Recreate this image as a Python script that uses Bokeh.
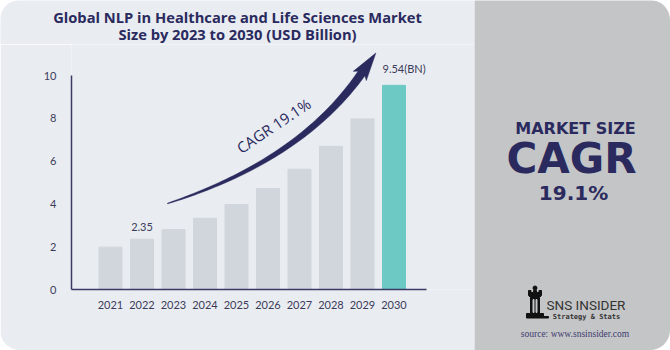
import numpy as np
from bokeh.plotting import figure
from bokeh.models import ColumnDataSource, Range1d, FixedTicker
from bokeh.layouts import row, column
from bokeh.core.properties import value
from bokeh.embed import file_html
from bokeh.resources import INLINE

# ---------------- data ----------------
years = [2021, 2022, 2023, 2024, 2025, 2026, 2027, 2028, 2029, 2030]
market_size = [1.98, 2.35, 2.80, 3.33, 3.97, 4.72, 5.62, 6.69, 7.97, 9.54]
y_ticks = [0, 2, 4, 6, 8, 10]
title_lines = ["Global NLP in Healthcare and Life Sciences Market",
               "Size by 2023 to 2030 (USD Billion)"]
cagr_label = "CAGR 19.1%"
first_label = "2.35"
last_label = "9.54(BN)"
panel_lines = ["MARKET SIZE", "CAGR", "19.1%"]
brand_name = "SNS INSIDER"
brand_tag = "Strategy & Stats"
source_text = "source: www.snsinsider.com"

# ---------------- styling / layout ----------------
BG = "#e9ecf1"
PANEL = "#c4c5c7"
NAVY = "#2a2a5e"
BAR_GREY = "#d0d6dc"
BAR_TEAL = "#6dc9c4"
TICK_COL = "#3c3c5a"

W1, W2, H = 474, 196, 350
HT = 44                         # height of the title strip
FL, FB = 71, 61                 # frame left / bottom borders (px)
PX_YEAR, PX_UNIT = 31.5, 21.4   # scale factors
FRAME_BOTTOM = H - FB           # page y of value 0
x0 = years[0] - (110 - FL) / PX_YEAR
x1 = x0 + (W1 - FL) / PX_YEAR
y1 = (FRAME_BOTTOM - HT) / PX_UNIT


def to_data(px, py):
    return x0 + (np.asarray(px) - FL) / PX_YEAR, (FRAME_BOTTOM - np.asarray(py)) / PX_UNIT


def blank(width, height, xr, yr, fill):
    f = figure(width=width, height=height, x_range=xr, y_range=yr, min_border=0,
               output_backend="svg", toolbar_location=None,
               x_axis_type=None, y_axis_type=None,
               background_fill_color=fill, border_fill_color=fill, outline_line_color=None)
    f.grid.visible = False
    f.frame_align = False
    return f


# ---------------- title strip ----------------
t = blank(W1, HT, Range1d(0, W1), Range1d(HT, 0), BG)
t.text(x=[237, 237], y=[16, 33], text=title_lines, text_align="center",
       text_baseline="middle", text_font=value("Open Sans"), text_font_style="bold",
       text_font_size="14.7px", text_color=NAVY)
t.styles = {"border-top-left-radius": "20px", "overflow": "hidden"}

# ---------------- main chart ----------------
p = figure(width=W1, height=H - HT, x_range=Range1d(x0, x1), y_range=Range1d(0, y1),
           min_border_left=FL, min_border_right=0, min_border_top=0, min_border_bottom=FB,
           output_backend="svg", toolbar_location=None,
           background_fill_color=BG, border_fill_color=BG, outline_line_color=None)
p.grid.visible = False
p.frame_align = False

colors = [BAR_GREY] * (len(years) - 1) + [BAR_TEAL]
src = ColumnDataSource(dict(year=years, val=market_size, color=colors))
p.vbar(x="year", top="val", width=0.73, color="color", source=src)

for ax in (p.xaxis[0], p.yaxis[0]):
    ax.axis_line_color = "#3b3a64"
    ax.axis_line_width = 1.5
    ax.major_tick_line_color = None
    ax.minor_tick_line_color = None
    ax.major_label_text_font = "Lato"
    ax.major_label_text_font_size = "11px"
    ax.major_label_text_color = TICK_COL
p.xaxis.ticker = FixedTicker(ticks=years)
p.xaxis.bounds = (x0, x0 + 355 / PX_YEAR)
p.xaxis.major_label_standoff = 5
p.yaxis.ticker = FixedTicker(ticks=y_ticks)
p.yaxis.bounds = (y_ticks[0], y_ticks[-1])
p.yaxis.major_label_standoff = 9

# value labels
p.text(x=[years[1]], y=[market_size[1]], text=[first_label], y_offset=-12,
       text_align="center", text_baseline="middle", text_font=value("Lato"),
       text_font_size="11px", text_color=TICK_COL)
p.text(x=[years[-1] - 0.365], y=[market_size[-1]], text=[last_label], y_offset=-17,
       text_align="left", text_baseline="middle", text_font=value("Lato"),
       text_font_size="11px", text_color=TICK_COL)

# curved CAGR arrow (pixel-space bezier converted to data)
P0 = np.array([167.0, 203.0]); C = np.array([300.0, 160.0]); P2 = np.array([361.0, 73.0])
tt = np.linspace(0, 1, 60)[:, None]
B = (1 - tt) ** 2 * P0 + 2 * (1 - tt) * tt * C + tt ** 2 * P2
D = 2 * (1 - tt) * (C - P0) + 2 * tt * (P2 - C)
U = D / np.linalg.norm(D, axis=1, keepdims=True)
N = np.column_stack([U[:, 1], -U[:, 0]])
w = (0.3 + 3.8 * tt[:, 0] ** 0.8)[:, None]
upper = B + w * N
lower = B - w * N
E, uE, nE = B[-1], U[-1], N[-1]
tip = E + 25 * uE
barb1 = E + 8 * nE - 3 * uE
barb2 = E - 8 * nE - 3 * uE
poly = np.vstack([upper, barb1, tip, barb2, lower[::-1]])
ax_, ay_ = to_data(poly[:, 0], poly[:, 1])
p.patch(x=ax_, y=ay_, fill_color=NAVY, line_color=NAVY, line_width=0.5)

cx, cy = to_data([273], [125])
p.text(x=cx, y=cy, text=[cagr_label], angle=0.59, text_align="center",
       text_baseline="middle", text_font=value("Open Sans"), text_font_size="15px",
       text_color=NAVY)

p.styles = {"border-bottom-left-radius": "20px", "overflow": "hidden"}

# ---------------- right panel ----------------
q = blank(W2, H, Range1d(474, 670), Range1d(H, 0), PANEL)


def qtext(x, y, text, font, size, color=NAVY, style="bold"):
    q.text(x=[x], y=[y], text=[text], text_align="center", text_baseline="middle",
           text_font=value(font), text_font_style=style, text_font_size=size,
           text_color=color)


qtext(575, 128, panel_lines[0], "DejaVu Sans", "16px")
qtext(571, 158, panel_lines[1], "DejaVu Sans", "42px")
qtext(573, 192, panel_lines[2], "DejaVu Sans", "20px")

# logo (chess rook)
q.circle(x=[534.5], y=[287.5], radius=2.0, color="#111111")
rook = [(528, 290), (530.5, 290), (530.5, 292), (533, 292), (533, 290), (536, 290),
        (536, 292), (538.5, 292), (538.5, 290), (541, 290), (541, 295), (539, 297),
        (539, 313), (543, 313), (543, 316), (548, 316), (548, 317.5), (526, 317.5),
        (526, 313), (530, 313), (530, 297), (528, 295)]
q.patch(x=[a for a, b in rook], y=[b for a, b in rook], color="#111111")
q.quad(left=[532.5, 535.5], right=[533.5, 536.5], top=[299, 299], bottom=[312, 312],
       color=PANEL)

qtext(585.5, 304, brand_name, "Roboto", "13.5px", color="#333333", style="normal")
qtext(586, 316, brand_tag, "DejaVu Sans Mono", "7px", color="#333333")
qtext(574.5, 333, source_text, "Liberation Serif", "9.5px", color="#3d3b6e", style="normal")

q.styles = {"border-top-right-radius": "20px", "border-bottom-right-radius": "20px",
            "overflow": "hidden"}

layout = row(column(t, p), q)
open("out.html", "w").write(file_html(layout, INLINE))
